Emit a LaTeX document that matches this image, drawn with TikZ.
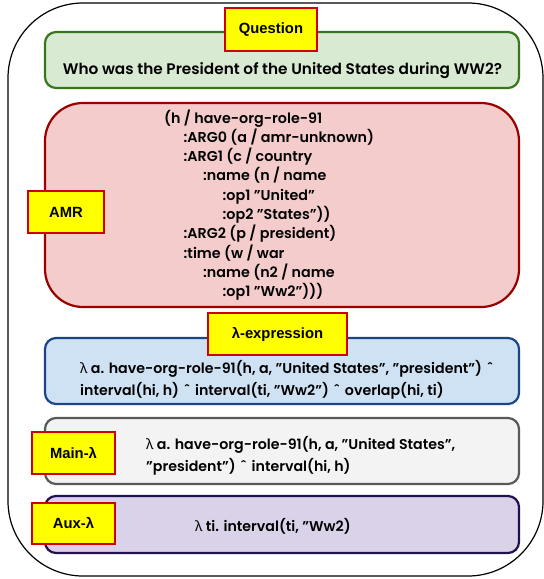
\documentclass[tikz,border=0pt]{standalone}
\usepackage{fontspec}
\setmainfont{Liberation Sans}
\newfontfamily\bodyfont{Poppins SemiBold}
\newfontfamily\greekfont{Noto Sans}
\usepackage{xcolor}
\definecolor{leafgreen}{HTML}{38761D}
\definecolor{leaffill}{HTML}{D9EAD3}
\definecolor{wine}{HTML}{990000}
\definecolor{winefill}{HTML}{F4CCCC}
\definecolor{navy}{HTML}{1C4587}
\definecolor{navyfill}{HTML}{CFE2F3}
\definecolor{slate}{HTML}{595959}
\definecolor{slatefill}{HTML}{F3F3F3}
\definecolor{plum}{HTML}{20124D}
\definecolor{plumfill}{HTML}{D9D2E9}
\definecolor{tagred}{HTML}{D00000}
\definecolor{tagyellow}{HTML}{FFFF00}
\newcommand{\lam}{{\greekfont\bfseries λ}}
\newcommand{\wedgemark}{\,ˆ\,}
\tikzset{
  panel/.style={
    draw, line width=2.2pt, rounded corners=11pt,
    inner sep=0pt, minimum width=474pt}}
\tikzset{
  tag/.style={
    draw=tagred, fill=tagyellow, line width=2.4pt, inner sep=0pt,
    font=\bfseries\fontsize{14.8}{16}\selectfont}}
\tikzset{
  body/.style={
    inner sep=0pt, align=left,
    font=\bodyfont\fontsize{14.2}{22}\selectfont}}

\begin{document}
\begin{tikzpicture}[x=1pt,y=-1pt]
    \useasboundingbox (0,0) rectangle (544,579);
    \draw[line width=1.2pt, rounded corners=75pt] (8,3) rectangle (543,576);
    % panels
    \node[panel, draw=leafgreen, fill=leaffill, minimum height=56pt] (question) at (282,60) {};
    \node[panel, draw=wine, fill=winefill, minimum height=204pt, rounded corners=38pt] (amr) at (282,205) {};
    \node[panel, draw=navy, fill=navyfill, minimum height=66pt] (lambda) at (282,371) {};
    \node[panel, draw=slate, fill=slatefill, minimum height=66pt] (mainlam) at (282,451) {};
    \node[panel, draw=plum, fill=plumfill, minimum height=57pt] (auxlam) at (282,524.5) {};
    % texts
    \node[body, font=\bodyfont\fontsize{15.3}{22}\selectfont] (questiontext) at (282.5,71)
        {Who was the President of the United States during WW2?};
    \node[body, anchor=west, font=\bodyfont\fontsize{14.3}{19.3}\selectfont] (amrtext) at (164,205)
        {(h / have-org-role-91\\
         \hspace*{19.5pt}:ARG0 (a / amr-unknown)\\
         \hspace*{19.5pt}:ARG1 (c / country\\
         \hspace*{39pt}:name (n / name\\
         \hspace*{58.5pt}:op1 ”United”\\
         \hspace*{58.5pt}:op2 ”States”))\\
         \hspace*{19.5pt}:ARG2 (p / president)\\
         \hspace*{19.5pt}:time (w / war\\
         \hspace*{39pt}:name (n2 / name\\
         \hspace*{58.5pt}:op1 ”Ww2”)))};
    \node[body, anchor=west] (lambdatext) at (80,380)
        {\lam{} a. have-org-role-91(h, a, ”United States”, ”president”) \wedgemark\\
         interval(hi, h) \wedgemark{} interval(ti, ”Ww2”) \wedgemark{} overlap(hi, ti)};
    \node[body, anchor=west] (maintext) at (146,456)
        {\lam{} a. have-org-role-91(h, a, ”United States”,\\
         ”president”) \wedgemark{} interval(hi, h)};
    \node[body, anchor=west] (auxtext) at (195,526)
        {\lam{} ti. interval(ti, ”Ww2)};
    % tags
    \node[tag, minimum width=92pt, minimum height=43pt] (questiontag) at (271,29.5) {Question};
    \node[tag, minimum width=76pt, minimum height=42pt] (amrtag) at (66,212) {AMR};
    \node[tag, minimum width=139pt, minimum height=42pt] (lambdatag) at (277.5,334) {λ-expression};
    \node[tag, minimum width=83pt, minimum height=42pt] (maintag) at (73.5,453) {Main-λ};
    \node[tag, minimum width=83pt, minimum height=41pt] (auxtag) at (73.5,523.5) {Aux-λ};
\end{tikzpicture}
\end{document}
